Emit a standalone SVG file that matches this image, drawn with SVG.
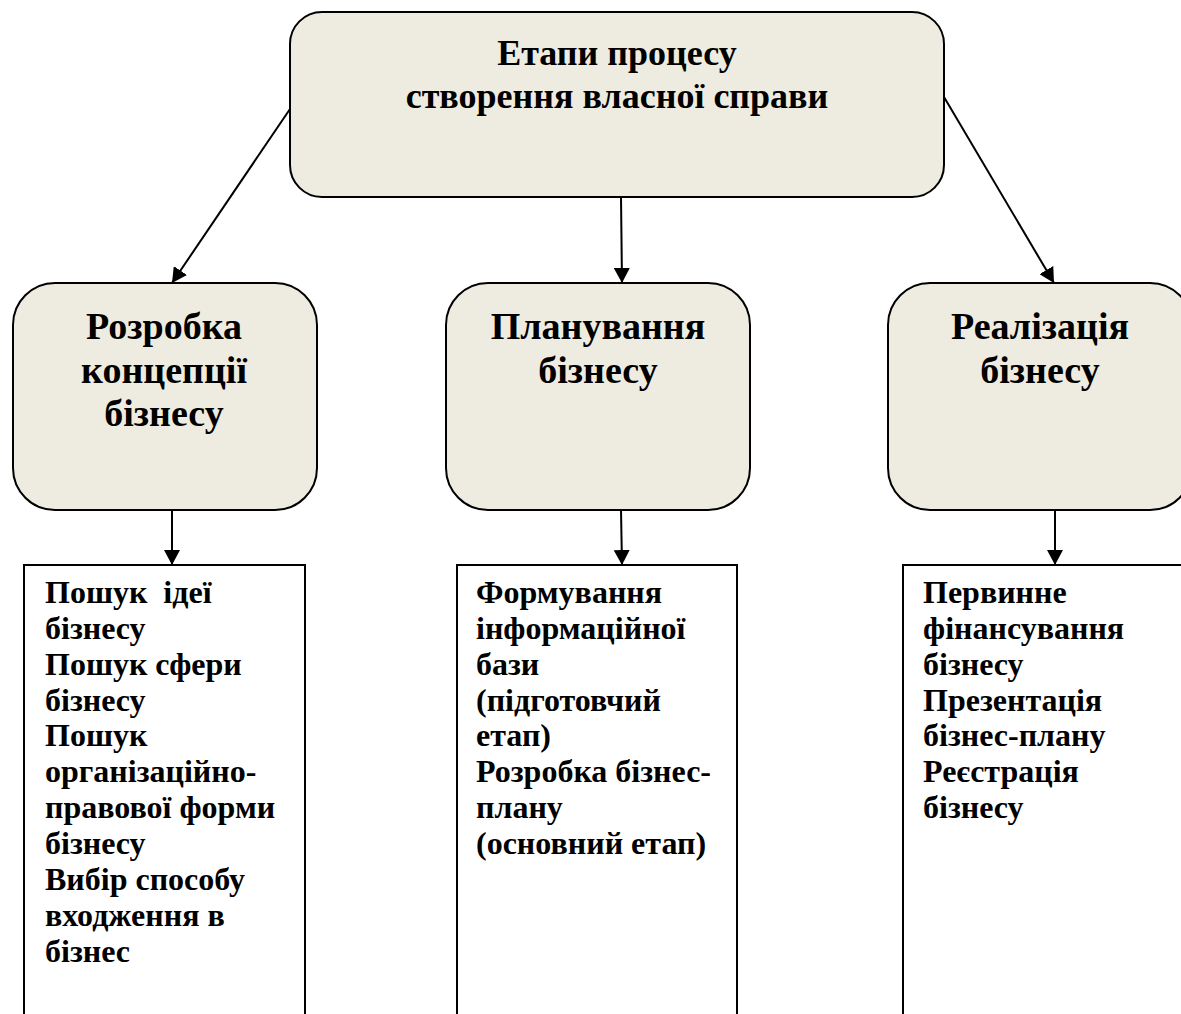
<svg xmlns="http://www.w3.org/2000/svg" width="1181" height="1014" viewBox="0 0 1181 1014">
<style>
.rbox{fill:#eeece1;stroke:#000;stroke-width:2}
.list{fill:#fff;stroke:#000;stroke-width:2}
.t{font-family:"Liberation Serif","Times New Roman",serif;font-weight:bold;fill:#000}
.title{font-size:36px;text-anchor:middle}
.mid{font-size:38px;text-anchor:middle}
.item{font-size:32px;white-space:pre}
.conn{stroke:#000;stroke-width:2;fill:none;marker-end:url(#ah)}
</style>
<defs>
<marker id="ah" markerWidth="16" markerHeight="16" refX="15" refY="8" orient="auto" markerUnits="userSpaceOnUse">
<path d="M0,0 L15,8 L0,16 Z" fill="#000"/>
</marker>
</defs>
<rect width="1181" height="1014" fill="#fff"/>
<g id="connectors">
<line class="conn" x1="290" y1="109" x2="172" y2="283"/>
<line class="conn" x1="621" y1="197" x2="622" y2="283"/>
<line class="conn" x1="944" y1="97" x2="1054" y2="283"/>
<line class="conn" x1="172" y1="510" x2="172" y2="565"/>
<line class="conn" x1="621" y1="510" x2="622" y2="565"/>
<line class="conn" x1="1055" y1="510" x2="1055" y2="565"/>
</g>
<g id="node-root">
<rect class="rbox" x="290" y="12" width="654" height="185" rx="32" ry="32"/>
<text class="t title" x="617" y="65">Етапи процесу</text>
<text class="t title" x="617" y="108">створення власної справи</text>
</g>
<g id="node-concept">
<rect class="rbox" x="13" y="283" width="304" height="227" rx="42" ry="42"/>
<text class="t mid" x="164" y="339">Розробка</text>
<text class="t mid" x="164" y="383">концепції</text>
<text class="t mid" x="164" y="426">бізнесу</text>
</g>
<g id="node-planning">
<rect class="rbox" x="446" y="283" width="304" height="227" rx="42" ry="42"/>
<text class="t mid" x="598" y="339">Планування</text>
<text class="t mid" x="598" y="383">бізнесу</text>
</g>
<g id="node-realization">
<rect class="rbox" x="888" y="283" width="304" height="227" rx="42" ry="42"/>
<text class="t mid" x="1040" y="339">Реалізація</text>
<text class="t mid" x="1040" y="383">бізнесу</text>
</g>
<g id="node-concept-list">
<rect class="list" x="24" y="565" width="281" height="470"/>
<text class="t item" x="45" y="603">Пошук  ідеї</text>
<text class="t item" x="45" y="639">бізнесу</text>
<text class="t item" x="45" y="675">Пошук сфери</text>
<text class="t item" x="45" y="711">бізнесу</text>
<text class="t item" x="45" y="746">Пошук</text>
<text class="t item" x="45" y="782">організаційно-</text>
<text class="t item" x="45" y="818">правової форми</text>
<text class="t item" x="45" y="854">бізнесу</text>
<text class="t item" x="45" y="890">Вибір способу</text>
<text class="t item" x="45" y="926">входження в</text>
<text class="t item" x="45" y="962">бізнес</text>
</g>
<g id="node-planning-list">
<rect class="list" x="457" y="565" width="280" height="470"/>
<text class="t item" x="476" y="603">Формування</text>
<text class="t item" x="476" y="639">інформаційної</text>
<text class="t item" x="476" y="675">бази</text>
<text class="t item" x="476" y="711">(підготовчий</text>
<text class="t item" x="476" y="746">етап)</text>
<text class="t item" x="476" y="782">Розробка бізнес-</text>
<text class="t item" x="476" y="818">плану</text>
<text class="t item" x="476" y="854">(основний етап)</text>
</g>
<g id="node-realization-list">
<rect class="list" x="903" y="565" width="290" height="470"/>
<text class="t item" x="923" y="603">Первинне</text>
<text class="t item" x="923" y="639">фінансування</text>
<text class="t item" x="923" y="675">бізнесу</text>
<text class="t item" x="923" y="711">Презентація</text>
<text class="t item" x="923" y="746">бізнес-плану</text>
<text class="t item" x="923" y="782">Реєстрація</text>
<text class="t item" x="923" y="818">бізнесу</text>
</g>
</svg>
